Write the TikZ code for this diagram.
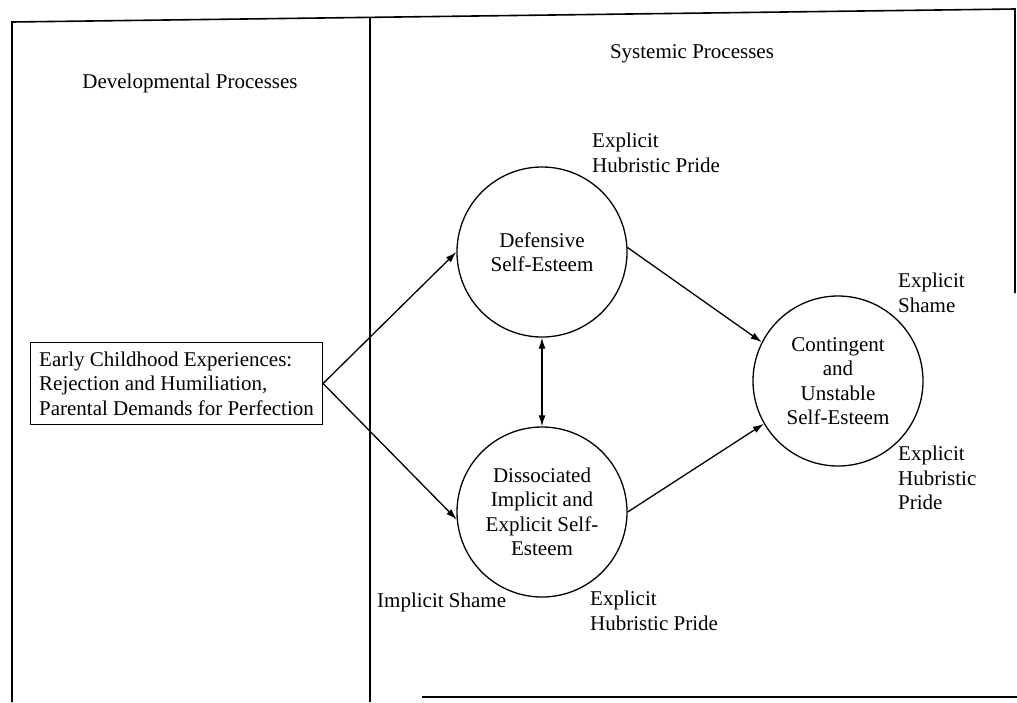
\documentclass[tikz,border=0pt]{standalone}
\usepackage{fontspec}
\setmainfont{Liberation Serif}
\usetikzlibrary{arrows.meta}
\begin{document}
\begin{tikzpicture}[x=1pt,y=-1pt,
  every node/.style={font=\fontsize{21}{24.5}\selectfont},
  frameline/.style={line width=1.6pt},
  circ/.style={draw,circle,minimum size=170pt,inner sep=0pt,align=center,line width=1.3pt},
  arr/.style={line width=1.3pt,-{Latex[length=11pt,width=7pt]}},
  dblarr/.style={line width=1.3pt,{Latex[length=11pt,width=7pt]}-{Latex[length=11pt,width=7pt]}},
  lbl/.style={align=left,anchor=north west,inner sep=0pt},
  head/.style={anchor=base,inner sep=0pt},
  srcbox/.style={draw,align=left,inner xsep=8.5pt,inner ysep=9pt,line width=1.5pt}]
\useasboundingbox (0,0) rectangle (1017,702);
% frame
\coordinate (tl) at (12,22);
\coordinate (tr) at (1015,9);
\coordinate (bl) at (12,702);
\coordinate (rb) at (1015,293);
\coordinate (dt) at (370,17.4);
\coordinate (db) at (370,702);
\coordinate (bs) at (422,697);
\coordinate (be) at (1017,697);
\draw[frameline] (bl) -- (tl) -- (tr) -- (rb);
\draw[frameline] (dt) -- (db);
\draw[frameline] (bs) -- (be);
% headings
\node[head] (hdev) at (190,88) {Developmental Processes};
\node[head] (hsys) at (692,58) {Systemic Processes};
% nodes
\node[srcbox] (box) at (176.5,383.5) {Early Childhood Experiences:\\Rejection and Humiliation,\\Parental Demands for Perfection};
\node[circ] (def) at (542,252) {Defensive\\Self-Esteem};
\node[circ] (dis) at (542,512) {Dissociated\\Implicit and\\Explicit Self-\\Esteem};
\node[circ] (con) at (838,381) {Contingent\\and\\Unstable\\Self-Esteem};
% labels
\node[lbl] (l1) at (592,133) {Explicit\\Hubristic Pride};
\node[lbl] (l2) at (898,273) {Explicit\\Shame};
\node[lbl] (l3) at (898,446) {Explicit\\Hubristic\\Pride};
\node[head,anchor=base west] (l4) at (377,607) {Implicit Shame};
\node[lbl] (l5) at (590,591) {Explicit\\Hubristic Pride};
% connectors
\draw[arr] (box.east) -- (def.west);
\draw[arr] (box.east) -- (dis.185);
\draw[arr] (def.3) -- (con.153);
\draw[arr] (dis.east) -- (con.210);
\draw[dblarr] (def.south) -- (dis.north);
\end{tikzpicture}
\end{document}
